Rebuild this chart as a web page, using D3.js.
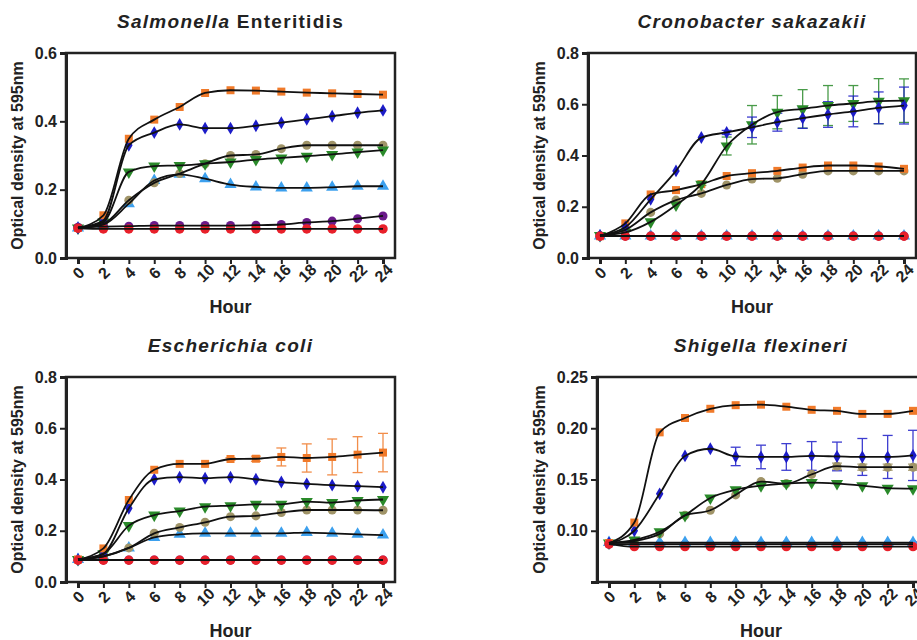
<!DOCTYPE html>
<html>
<head>
<meta charset="utf-8">
<script src="https://cdn.jsdelivr.net/npm/d3@7"></script>
<style>
  body { margin: 0; background: #fff; }
  svg { font-family: "Liberation Sans", Arial, sans-serif; font-weight: bold; }
</style>
</head>
<body>
<svg id="chart" width="917" height="640"></svg>
<script>
// time points (hours)
const hours = [0, 2, 4, 6, 8, 10, 12, 14, 16, 18, 20, 22, 24];

// Salmonella Enteritidis
const salOrange    = [0.088, 0.125, 0.349, 0.405, 0.442, 0.483, 0.491, 0.490, 0.487, 0.484, 0.482, 0.480, 0.478];
const salBlue      = [0.088, 0.110, 0.330, 0.367, 0.391, 0.380, 0.380, 0.387, 0.396, 0.406, 0.415, 0.425, 0.432];
const salOlive     = [0.088, 0.100, 0.169, 0.220, 0.247, 0.276, 0.300, 0.303, 0.320, 0.330, 0.330, 0.330, 0.330];
const salGreen     = [0.088, 0.105, 0.252, 0.269, 0.271, 0.276, 0.281, 0.288, 0.293, 0.298, 0.303, 0.310, 0.316];
const salLightBlue = [0.088, 0.098, 0.159, 0.227, 0.245, 0.232, 0.215, 0.208, 0.205, 0.205, 0.207, 0.210, 0.210];
const salPurple    = [0.090, 0.092, 0.093, 0.095, 0.095, 0.095, 0.095, 0.096, 0.098, 0.104, 0.108, 0.115, 0.123];
const salRed       = [0.087, 0.085, 0.085, 0.085, 0.085, 0.085, 0.085, 0.085, 0.085, 0.085, 0.085, 0.085, 0.085];

// Cronobacter sakazakii
const croOrange    = [0.085, 0.135, 0.248, 0.265, 0.288, 0.320, 0.331, 0.340, 0.353, 0.361, 0.361, 0.357, 0.348];
const croBlue      = [0.088, 0.120, 0.229, 0.340, 0.470, 0.490, 0.510, 0.530, 0.546, 0.560, 0.572, 0.586, 0.595];
const croOlive     = [0.088, 0.110, 0.178, 0.226, 0.252, 0.285, 0.308, 0.311, 0.327, 0.340, 0.340, 0.340, 0.340];
const croGreen     = [0.088, 0.100, 0.141, 0.207, 0.288, 0.437, 0.520, 0.569, 0.582, 0.595, 0.603, 0.612, 0.614];
const croLightBlue = [0.086, 0.086, 0.086, 0.086, 0.086, 0.086, 0.086, 0.086, 0.086, 0.086, 0.086, 0.086, 0.086];
const croPurple    = [0.086, 0.086, 0.086, 0.086, 0.086, 0.086, 0.086, 0.086, 0.086, 0.086, 0.086, 0.086, 0.086];
const croRed       = [0.085, 0.085, 0.085, 0.085, 0.085, 0.085, 0.085, 0.085, 0.085, 0.085, 0.085, 0.085, 0.085];
const croBlueErr   = [0, 0, 0, 0, 0, 0.008, 0.040, 0.035, 0.040, 0.050, 0.060, 0.062, 0.072];
const croGreenErr  = [0, 0, 0, 0, 0.005, 0.035, 0.075, 0.065, 0.075, 0.078, 0.070, 0.088, 0.085];

// Escherichia coli
const colOrange    = [0.088, 0.131, 0.320, 0.438, 0.461, 0.461, 0.480, 0.481, 0.488, 0.484, 0.488, 0.497, 0.505];
const colBlue      = [0.088, 0.110, 0.288, 0.401, 0.409, 0.405, 0.409, 0.401, 0.390, 0.383, 0.378, 0.374, 0.370];
const colOlive     = [0.088, 0.100, 0.133, 0.190, 0.213, 0.233, 0.255, 0.258, 0.271, 0.281, 0.281, 0.281, 0.280];
const colGreen     = [0.088, 0.110, 0.220, 0.261, 0.277, 0.294, 0.298, 0.303, 0.303, 0.314, 0.310, 0.318, 0.322];
const colLightBlue = [0.088, 0.100, 0.133, 0.174, 0.186, 0.190, 0.190, 0.190, 0.190, 0.193, 0.190, 0.186, 0.183];
const colPurple    = [0.086, 0.086, 0.086, 0.086, 0.086, 0.086, 0.086, 0.086, 0.086, 0.086, 0.086, 0.086, 0.086];
const colRed       = [0.085, 0.085, 0.085, 0.085, 0.085, 0.085, 0.085, 0.085, 0.085, 0.085, 0.085, 0.085, 0.085];
const colOrangeErr = [0, 0, 0, 0, 0, 0, 0.005, 0.010, 0.035, 0.055, 0.070, 0.070, 0.075];

// Shigella flexineri
const shiOrange    = [0.088, 0.108, 0.196, 0.210, 0.219, 0.2225, 0.223, 0.221, 0.218, 0.217, 0.214, 0.214, 0.217];
const shiBlue      = [0.088, 0.100, 0.136, 0.173, 0.180, 0.1725, 0.172, 0.172, 0.173, 0.1725, 0.172, 0.172, 0.1735];
const shiOlive     = [0.088, 0.090, 0.097, 0.115, 0.120, 0.135, 0.148, 0.146, 0.155, 0.163, 0.162, 0.162, 0.162];
const shiGreen     = [0.088, 0.091, 0.099, 0.115, 0.132, 0.140, 0.144, 0.146, 0.147, 0.146, 0.144, 0.1415, 0.141];
const shiLightBlue = [0.0885, 0.0885, 0.0885, 0.0885, 0.0885, 0.0885, 0.0885, 0.0885, 0.0885, 0.0885, 0.0885, 0.0885, 0.0885];
const shiPurple    = [0.087, 0.087, 0.087, 0.087, 0.087, 0.087, 0.087, 0.087, 0.087, 0.087, 0.087, 0.087, 0.087];
const shiRed       = [0.087, 0.0845, 0.0845, 0.0845, 0.0845, 0.0845, 0.0845, 0.0845, 0.0845, 0.0845, 0.0845, 0.0845, 0.0845];
const shiBlueErr   = [0, 0, 0, 0, 0, 0.009, 0.0115, 0.013, 0.014, 0.014, 0.018, 0.021, 0.0245];
const shiOliveErr  = [0, 0, 0, 0, 0, 0, 0, 0, 0, 0.003, 0.003, 0.003, 0.003];

// axis ticks
const yTicks08  = [0, 0.2, 0.4, 0.6, 0.8];
const yTicks06  = [0, 0.2, 0.4, 0.6];
const yTicksShi = [0.10, 0.15, 0.20, 0.25];

const styles = {
  orange:    { color: "#f07a2a", symbol: d3.symbolSquare,   size: 64, rot: 0 },
  blue:      { color: "#1c1cc8", symbol: d3.symbolDiamond,  size: 48, rot: 0 },
  olive:     { color: "#a09468", symbol: d3.symbolCircle,   size: 64, rot: 0 },
  green:     { color: "#2a8a2a", symbol: d3.symbolTriangle, size: 64, rot: 180 },
  lightblue: { color: "#3ca0ee", symbol: d3.symbolTriangle, size: 64, rot: 0 },
  purple:    { color: "#6a1a8a", symbol: d3.symbolCircle,   size: 64, rot: 0 },
  red:       { color: "#e8202a", symbol: d3.symbolCircle,   size: 70, rot: 0 }
};

const panels = [
  { title: [["Salmonella", "italic"], [" Enteritidis", "normal"]],
    left: 66, right: 395, top: 53, bottom: 258, yDomain: [0, 0.6], yTicks: yTicks06, fmt: ".1f", labelX: 23,
    series: [["lightblue", salLightBlue], ["olive", salOlive], ["green", salGreen], ["blue", salBlue],
             ["orange", salOrange], ["purple", salPurple], ["red", salRed]], errs: {} },
  { title: [["Cronobacter sakazakii", "italic"]],
    left: 588, right: 916, top: 53, bottom: 258, yDomain: [0, 0.8], yTicks: yTicks08, fmt: ".1f", labelX: 545,
    series: [["lightblue", croLightBlue], ["olive", croOlive], ["orange", croOrange], ["green", croGreen],
             ["blue", croBlue], ["purple", croPurple], ["red", croRed]],
    errs: { green: croGreenErr, blue: croBlueErr } },
  { title: [["Escherichia coli", "italic"]],
    left: 66, right: 395, top: 377, bottom: 582, yDomain: [0, 0.8], yTicks: yTicks08, fmt: ".1f", labelX: 23,
    series: [["purple", colPurple], ["lightblue", colLightBlue], ["olive", colOlive], ["green", colGreen],
             ["blue", colBlue], ["orange", colOrange], ["red", colRed]],
    errs: { orange: colOrangeErr } },
  { title: [["Shigella flexineri", "italic"]],
    left: 597, right: 925, top: 377, bottom: 582, yDomain: [0.05, 0.25], yTicks: yTicksShi, fmt: ".2f", labelX: 545,
    series: [["purple", shiPurple], ["lightblue", shiLightBlue], ["olive", shiOlive], ["green", shiGreen],
             ["blue", shiBlue], ["orange", shiOrange], ["red", shiRed]],
    errs: { blue: shiBlueErr, olive: shiOliveErr } }
];

const svg = d3.select("#chart");

panels.forEach(p => {
  const g = svg.append("g");
  const x = d3.scaleLinear().domain([0, 24]).range([p.left + 12, p.right - 12]);
  const y = d3.scaleLinear().domain(p.yDomain).range([p.bottom, p.top]);
  const cx = (p.left + p.right) / 2;

  // title
  const t = g.append("text")
    .attr("x", cx).attr("y", p.top - 25)
    .attr("text-anchor", "middle")
    .style("font-size", "19px")
    .style("letter-spacing", "1.3px")
    .style("fill", "#222");
  p.title.forEach(([s, st]) => t.append("tspan").style("font-style", st).text(s));

  // frame (top and right)
  g.append("rect")
    .attr("x", p.left).attr("y", p.top)
    .attr("width", p.right - p.left).attr("height", p.bottom - p.top)
    .attr("fill", "none").attr("stroke", "#222").attr("stroke-width", 2.5);

  // axes
  const yAxis = g.append("g")
    .attr("transform", `translate(${p.left},0)`)
    .call(d3.axisLeft(y).tickValues(p.yTicks).tickFormat(d3.format(p.fmt)).tickSize(6).tickPadding(3));
  yAxis.selectAll("text").style("font-size", "16px").style("font-weight", "bold").style("fill", "#222")
    .style("font-family", "'Liberation Sans', Arial, sans-serif");

  const xAxis = g.append("g")
    .attr("transform", `translate(0,${p.bottom})`)
    .call(d3.axisBottom(x).tickValues(hours).tickSize(6));
  xAxis.selectAll("text")
    .attr("x", 0).attr("y", 0).attr("dy", "0.35em")
    .attr("text-anchor", "middle")
    .attr("transform", "translate(0,15) rotate(-45)")
    .style("font-size", "16px").style("font-weight", "bold").style("fill", "#222")
    .style("font-family", "'Liberation Sans', Arial, sans-serif");

  [yAxis, xAxis].forEach(a => {
    a.select(".domain").attr("stroke", "#222").attr("stroke-width", 3);
    a.selectAll(".tick line").attr("stroke", "#222").attr("stroke-width", 2);
  });

  // axis titles
  g.append("text")
    .attr("transform", `translate(${p.labelX},${(p.top + p.bottom) / 2}) rotate(-90)`)
    .attr("text-anchor", "middle")
    .style("font-size", "16px").style("fill", "#222")
    .text("Optical density at 595nm");

  g.append("text")
    .attr("x", cx).attr("y", p.bottom + 55)
    .attr("text-anchor", "middle")
    .style("font-size", "18px").style("fill", "#222")
    .text("Hour");

  // error bars
  Object.entries(p.errs).forEach(([key, err]) => {
    const vals = p.series.find(s => s[0] === key)[1];
    const col = styles[key].color;
    hours.forEach((h, i) => {
      if (!err[i]) return;
      const xx = x(h), y1 = y(vals[i] + err[i]), y2 = y(vals[i] - err[i]);
      const eg = g.append("g").attr("stroke", col).attr("stroke-width", 1.3).attr("opacity", 0.85);
      eg.append("line").attr("x1", xx).attr("x2", xx).attr("y1", y1).attr("y2", y2);
      eg.append("line").attr("x1", xx - 5).attr("x2", xx + 5).attr("y1", y1).attr("y2", y1);
      eg.append("line").attr("x1", xx - 5).attr("x2", xx + 5).attr("y1", y2).attr("y2", y2);
    });
  });

  // markers
  p.series.forEach(([key, vals]) => {
    const st = styles[key];
    const sym = d3.symbol().type(st.symbol).size(st.size);
    g.append("g").selectAll("path")
      .data(vals)
      .join("path")
      .attr("d", sym)
      .attr("transform", (d, i) => `translate(${x(hours[i])},${y(d)}) rotate(${st.rot})`)
      .attr("fill", st.color);
  });

  // connecting lines
  const line = d3.line()
    .x((d, i) => x(hours[i]))
    .y(d => y(d))
    .curve(d3.curveMonotoneX);
  p.series.forEach(([key, vals]) => {
    g.append("path")
      .attr("d", line(vals))
      .attr("fill", "none")
      .attr("stroke", "#111")
      .attr("stroke-width", 1.8);
  });
});
</script>
</body>
</html>
